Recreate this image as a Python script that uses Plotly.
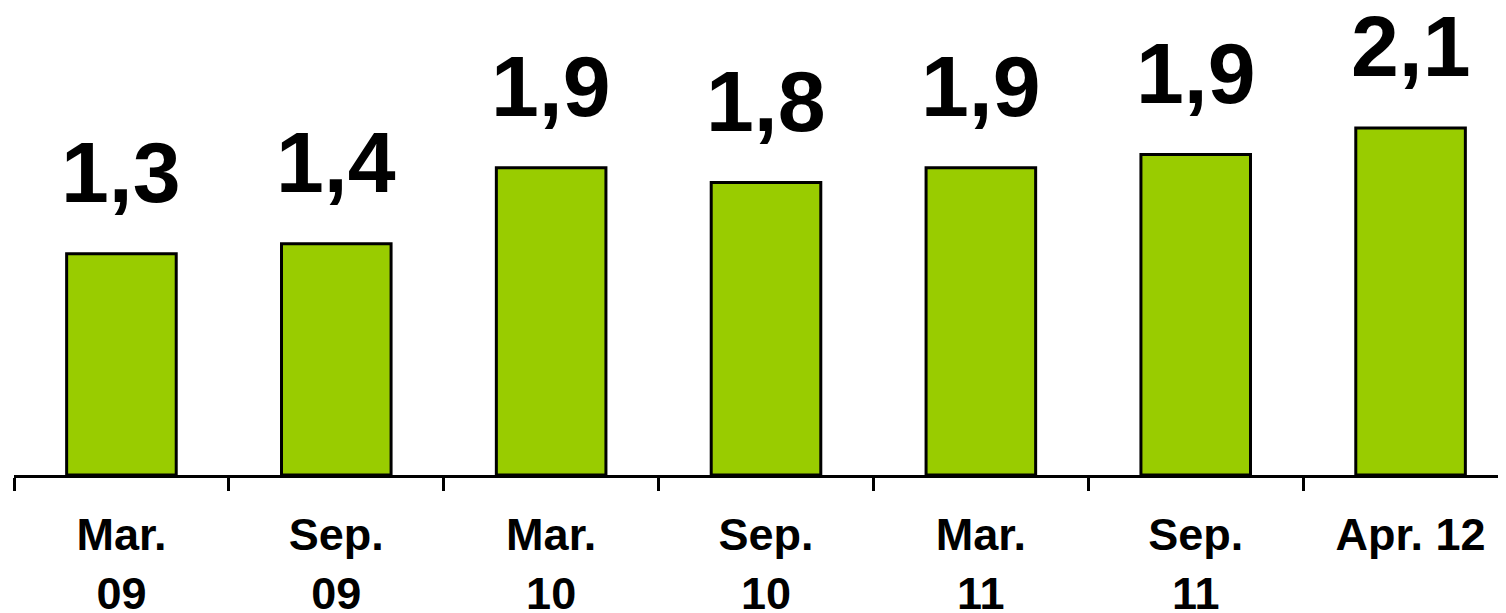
import plotly.graph_objects as go

categories = ["Mar.<br>09", "Sep.<br>09", "Mar.<br>10", "Sep.<br>10", "Mar.<br>11", "Sep.<br>11", "Apr. 12"]
values = [1.34, 1.40, 1.86, 1.77, 1.86, 1.94, 2.10]
labels = ["1,3", "1,4", "1,9", "1,8", "1,9", "1,9", "2,1"]

FONT = "Liberation Sans, Arial, sans-serif"

fig = go.Figure()
fig.add_trace(go.Bar(
    x=categories, y=values,
    marker=dict(color="#99CC00", line=dict(color="black", width=3)),
    hoverinfo="skip",
))

for c, v, t in zip(categories, values, labels):
    fig.add_annotation(x=c, y=v, text=f"<b>{t}</b>", showarrow=False,
                       yanchor="bottom", yshift=32,
                       font=dict(family=FONT, size=86, color="black"))

fig.update_layout(
    width=1510, height=613,
    margin=dict(l=6, r=0, t=0, b=146, autoexpand=False),
    paper_bgcolor="white", plot_bgcolor="white",
    bargap=0.49,
    showlegend=False,
    font=dict(family=FONT, color="black"),
)
fig.update_xaxes(
    type="category", tickson="boundaries",
    showline=True, linecolor="black", linewidth=3,
    ticks="outside", ticklen=13, tickwidth=3, tickcolor="black",
    tickfont=dict(family=FONT, size=45, color="black"),
    ticklabelstandoff=18,
    showgrid=False, zeroline=False, automargin=False,
    range=[-0.5, 6.5],
    tickprefix="<b>", ticksuffix="</b>",
)
fig.update_yaxes(visible=False, range=[0, 2.827], showgrid=False, zeroline=False)

fig.write_html("out.html")
